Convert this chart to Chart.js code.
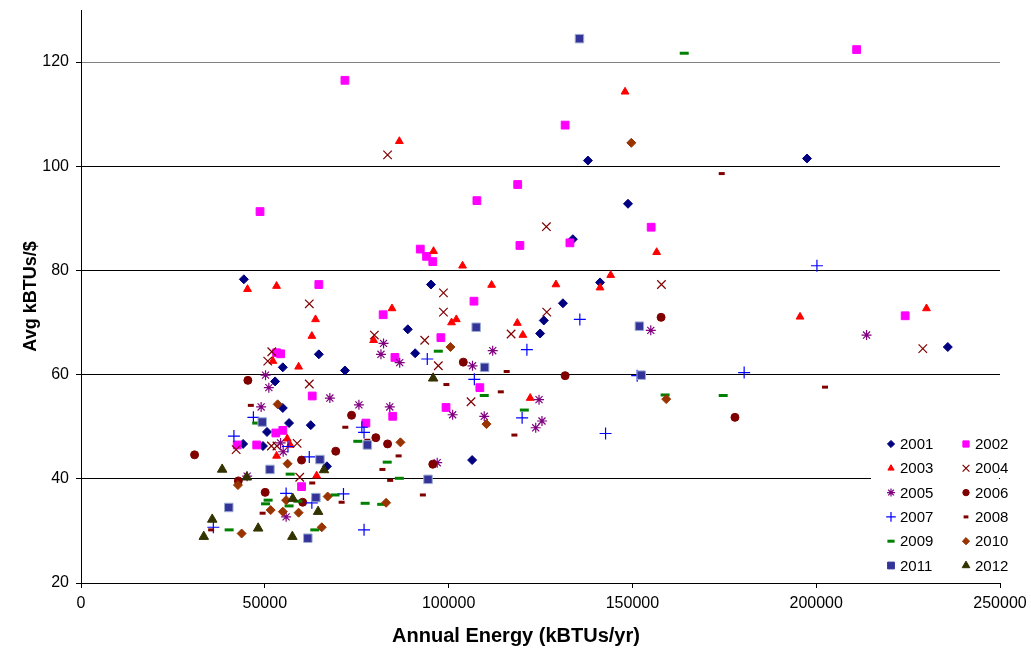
<!DOCTYPE html>
<html lang="en">
<head>
    <meta charset="UTF-8">
    <title>Avg kBTUs/$ vs Annual Energy</title>
    <script src="https://cdn.jsdelivr.net/npm/chart.js"></script>
    <style>
        html, body { margin: 0; padding: 0; background: #fff; }
        canvas { display: block; }
    </style>
</head>
<body>
    <canvas id="chart" width="1031" height="651"></canvas>
    <script>
        const xTicks = [0, 50000, 100000, 150000, 200000, 250000];
        const yTicks = [20, 40, 60, 80, 100, 120];

        const x2001 = [44300, 137900, 197500, 148800, 133800, 141200, 131100, 125900, 124900, 235800, 95200, 88900, 90900, 71800, 64700, 54900, 52800, 54900, 56600, 62500, 50600, 44100, 49500, 66900, 106400];
        const y2001 = [78.3, 101.1, 101.5, 92.8, 86.0, 77.7, 73.7, 70.4, 67.9, 65.3, 77.3, 68.7, 64.1, 60.8, 63.9, 61.4, 58.7, 53.6, 50.7, 50.3, 49.0, 46.7, 46.3, 42.4, 43.6];

        const x2002 = [211000, 71800, 131700, 48700, 107700, 118800, 92300, 94000, 95700, 119400, 133000, 155100, 224200, 106900, 82200, 97900, 85400, 108500, 99300, 84800, 77500, 64700, 53200, 54300, 62900, 53000, 54900, 42500, 47800, 60000];
        const y2002 = [122.4, 116.5, 107.9, 91.3, 93.4, 96.5, 84.1, 82.7, 81.7, 84.8, 85.3, 88.3, 71.3, 74.1, 71.5, 67.1, 63.3, 57.5, 53.7, 52.0, 50.7, 77.3, 64.2, 64.0, 55.9, 48.8, 49.3, 46.5, 46.5, 38.5];

        const x2003 = [148000, 86600, 95900, 103800, 156600, 144100, 129200, 141200, 195600, 230000, 111700, 84600, 100800, 102100, 118700, 120200, 79600, 122200, 45300, 53200, 63800, 62800, 52200, 59200, 56100, 53200, 56900, 64100];
        const y2003 = [114.3, 104.8, 83.7, 80.9, 83.5, 79.1, 77.3, 76.7, 71.1, 72.7, 77.2, 72.7, 70.0, 70.6, 69.9, 67.6, 66.6, 55.5, 76.4, 77.0, 70.6, 67.4, 62.6, 61.5, 47.7, 44.4, 46.5, 40.6];

        const x2004 = [83400, 126600, 157900, 126700, 229000, 98600, 98600, 117000, 79800, 93500, 97200, 106100, 62100, 51900, 50800, 62100, 42200, 51800, 53300, 58800, 59500];
        const y2004 = [102.2, 88.4, 77.3, 72.0, 65.0, 75.7, 72.0, 67.8, 67.6, 66.6, 61.7, 54.8, 73.6, 64.4, 62.6, 58.2, 45.6, 46.3, 46.3, 46.8, 40.3];

        const x2005 = [213700, 155000, 82300, 112000, 81600, 86700, 106500, 124600, 75600, 84000, 101100, 109700, 125400, 123700, 96900, 50200, 51100, 67700, 49000, 54300, 55000, 45200, 55800];
        const y2005 = [67.6, 68.5, 66.0, 64.6, 63.9, 62.3, 61.7, 55.2, 54.2, 53.8, 52.3, 52.0, 51.1, 49.8, 43.1, 59.9, 57.5, 55.5, 53.8, 46.9, 45.2, 40.5, 32.7];

        const x2006 = [157800, 131700, 177900, 104000, 73600, 80200, 83400, 95700, 45400, 30900, 60000, 69300, 42800, 50100, 60300];
        const y2006 = [71.0, 59.8, 51.8, 62.4, 52.2, 47.9, 46.7, 42.8, 58.9, 44.6, 43.6, 45.3, 39.6, 37.4, 35.5];

        const x2007 = [200200, 180400, 135700, 151300, 142700, 121300, 94200, 107000, 120000, 76400, 77000, 77000, 46900, 41600, 56300, 62100, 55800, 62800, 71400, 36000];
        const y2007 = [80.9, 60.4, 70.6, 59.8, 48.7, 64.8, 63.0, 59.1, 51.7, 49.9, 48.9, 30.2, 51.8, 48.2, 46.2, 44.2, 37.2, 35.4, 37.1, 30.7];

        const x2008 = [174300, 202400, 115800, 99400, 114200, 117900, 77900, 86400, 82000, 84100, 93000, 71900, 62900, 70900, 49400, 35400, 46200];
        const y2008 = [98.6, 57.6, 60.6, 58.1, 56.7, 48.4, 47.4, 44.4, 41.8, 39.7, 36.9, 49.9, 39.2, 35.5, 33.4, 30.2, 54.1];

        const x2009 = [164100, 174700, 158900, 97200, 109700, 120600, 75300, 83300, 86600, 77300, 81800, 47800, 56900, 59000, 69100, 50900, 50200, 56600, 40300, 63600];
        const y2009 = [121.7, 56.0, 56.1, 64.5, 56.0, 53.2, 47.2, 43.2, 40.1, 35.3, 35.1, 50.7, 40.9, 35.7, 36.9, 35.9, 35.2, 34.8, 30.2, 30.2];

        const x2010 = [149700, 159200, 100500, 110300, 86900, 83000, 53500, 56200, 42700, 55800, 67100, 51600, 54900, 59200, 65500, 43700];
        const y2010 = [104.5, 55.3, 65.3, 50.5, 47.0, 35.4, 54.3, 42.9, 38.8, 35.9, 36.6, 34.0, 33.7, 33.5, 30.7, 29.5];

        const x2011 = [135600, 151900, 152400, 107500, 109800, 77900, 94400, 49300, 65000, 51400, 63900, 40200, 61700];
        const y2011 = [124.5, 69.3, 59.9, 69.1, 61.4, 46.5, 39.9, 50.9, 43.7, 41.8, 36.4, 34.5, 28.6];

        const x2012 = [95800, 38400, 66100, 45100, 57600, 64500, 35700, 48200, 33400, 57500];
        const y2012 = [59.3, 41.8, 41.7, 40.3, 36.2, 33.7, 32.2, 30.5, 28.9, 28.9];

        const years = ['2001', '2002', '2003', '2004', '2005', '2006', '2007', '2008', '2009', '2010', '2011', '2012'];
        const xs = [x2001, x2002, x2003, x2004, x2005, x2006, x2007, x2008, x2009, x2010, x2011, x2012];
        const ys = [y2001, y2002, y2003, y2004, y2005, y2006, y2007, y2008, y2009, y2010, y2011, y2012];

        const FONT = '"Liberation Sans", Arial, sans-serif';

        // marker look per year, Excel style
        const markers = [
            { style: 'rectRot', r: 4.5, fill: '#000080', line: '#000080', w: 1 },
            { style: 'rect', r: 5.5, fill: '#FF00FF', line: '#FF00FF', w: 1 },
            { style: 'triangle', r: 4.5, fill: '#FF0000', line: '#FF0000', w: 1 },
            { style: 'crossRot', r: 6, fill: '#800000', line: '#800000', w: 1.2 },
            { style: 'star', r: 5, fill: '#800080', line: '#800080', w: 1.2 },
            { style: 'circle', r: 4, fill: '#800000', line: '#800000', w: 1 },
            { style: 'cross', r: 6, fill: '#0000FF', line: '#0000FF', w: 1.2 },
            { style: 'line', r: 3, fill: '#800000', line: '#800000', w: 3 },
            { style: 'line', r: 4.5, fill: '#008000', line: '#008000', w: 3 },
            { style: 'rectRot', r: 4.5, fill: '#993300', line: '#993300', w: 1 },
            { style: 'rect', r: 6, fill: '#333399', line: '#9AAED0', w: 1 },
            { style: 'triangle', r: 5.5, fill: '#333300', line: '#333300', w: 1 }
        ];

        const datasets = years.map((yr, i) => ({
            label: yr,
            data: xs[i].map((x, k) => ({ x: x, y: ys[i][k] })),
            pointStyle: markers[i].style,
            pointRadius: markers[i].r,
            pointHoverRadius: markers[i].r,
            backgroundColor: markers[i].fill,
            borderColor: markers[i].line,
            pointBorderWidth: markers[i].w,
            order: 11 - i
        }));

        // legend sits inside the plot, bottom right, two columns; x title centred on the page
        const boxLegend = {
            id: 'boxLegend',
            afterDatasetsDraw(chart) {
                const ctx = chart.ctx;
                ctx.save();
                ctx.fillStyle = '#fff';
                ctx.fillRect(871, 428, 128, 154);
                ctx.font = '15px ' + FONT;
                ctx.textBaseline = 'middle';
                years.forEach((yr, i) => {
                    const mx = i % 2 === 0 ? 891 : 966;
                    const my = 444 + Math.floor(i / 2) * 24.3;
                    const m = markers[i];
                    ctx.fillStyle = m.fill;
                    ctx.strokeStyle = i === 10 ? m.fill : m.line;
                    ctx.lineWidth = m.w;
                    Chart.helpers.drawPoint(ctx, { pointStyle: m.style, radius: m.r * 0.8, borderWidth: m.w, rotation: 0 }, mx, my);
                    ctx.fillStyle = '#000';
                    ctx.fillText(yr, mx + 9, my + 1);
                });
                ctx.font = 'bold 20px ' + FONT;
                ctx.textAlign = 'center';
                ctx.fillText('Annual Energy (kBTUs/yr)', 516, 636);
                ctx.restore();
            }
        };

        const ctx = document.getElementById('chart').getContext('2d');
        new Chart(ctx, {
            type: 'scatter',
            data: { datasets: datasets },
            options: {
                responsive: false,
                animation: false,
                devicePixelRatio: 1,
                layout: { padding: { top: 10, right: 31, left: 0, bottom: 0 } },
                plugins: {
                    legend: { display: false },
                    tooltip: { enabled: false }
                },
                scales: {
                    x: {
                        type: 'linear',
                        min: 0,
                        max: 250000,
                        afterBuildTicks: s => { s.ticks = xTicks.map(v => ({ value: v })); },
                        afterFit: s => { s.height = 68; s.paddingLeft = 0; s.paddingRight = 0; },
                        ticks: {
                            color: '#000',
                            padding: 6,
                            autoSkip: false,
                            maxRotation: 0,
                            font: { family: FONT, size: 16 },
                            callback: v => String(v)
                        },
                        grid: { drawOnChartArea: false, drawTicks: true, tickLength: 5, color: '#000' },
                        border: { color: '#000', width: 1 }
                    },
                    y: {
                        type: 'linear',
                        min: 20,
                        max: 130,
                        afterBuildTicks: s => { s.ticks = yTicks.map(v => ({ value: v })); },
                        afterFit: s => { s.width = 81; s.paddingTop = 0; s.paddingBottom = 0; },
                        ticks: {
                            color: '#000',
                            padding: 7,
                            autoSkip: false,
                            font: { family: FONT, size: 16 },
                            callback: v => String(v)
                        },
                        grid: { color: ctx => ctx.tick && ctx.tick.value === 120 ? '#808080' : '#000', drawTicks: true, tickLength: 5, tickColor: '#000' },
                        border: { color: '#000', width: 1 },
                        title: {
                            display: true,
                            text: 'Avg kBTUs/$',
                            color: '#000',
                            font: { family: FONT, size: 18, weight: 'bold' },
                            padding: { top: 20, bottom: 0 }
                        }
                    }
                }
            },
            plugins: [boxLegend]
        });
    </script>
</body>
</html>
